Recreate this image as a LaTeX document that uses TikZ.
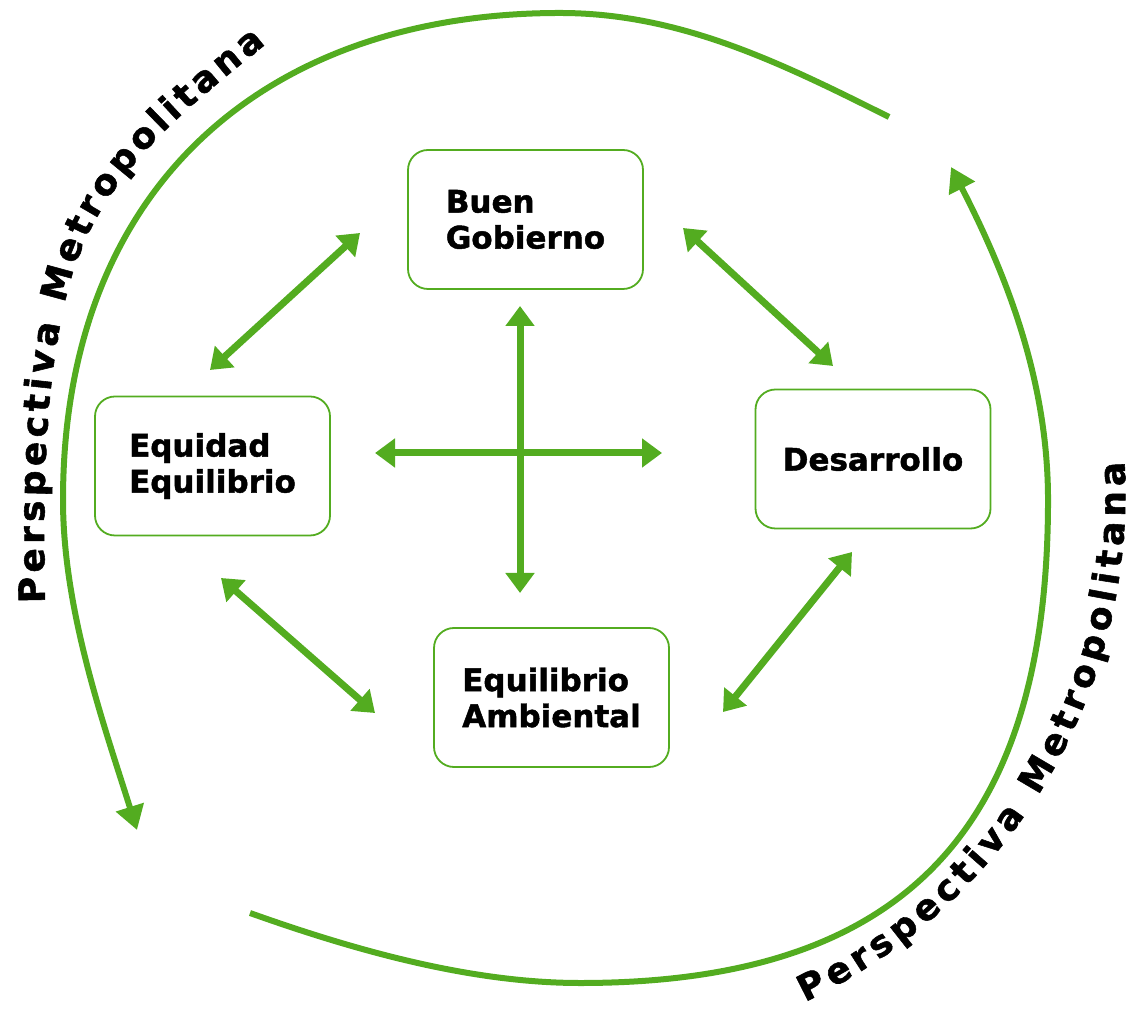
\documentclass[tikz,border=0pt]{standalone}
\usepackage{fontspec}
\setmainfont{DejaVu Sans}[BoldFeatures={FakeBold=1.5}]
\usetikzlibrary{positioning,arrows.meta,decorations.text}

\definecolor{verde}{RGB}{83,172,32}

\tikzset{
  caja/.style={draw=verde, line width=0.45pt, rounded corners=5pt,
    minimum width=58.75pt, minimum height=34.75pt, inner sep=0pt,
    align=left, font=\bfseries\fontsize{7.75}{9}\selectfont},
  flecha/.style={draw=verde, line width=1.75pt,
    {Triangle[length=5pt,width=7pt]}-{Triangle[length=5pt,width=7pt]}},
  arco/.style={draw=verde, line width=1.5pt, -{Triangle[length=6pt,width=7pt]}},
  rotulo/.style={decorate, decoration={text along path, text align={fit to path},
    text={|\bfseries\fontsize{9}{10}\selectfont|Perspectiva Metropolitana}}}
}

\begin{document}
\begin{tikzpicture}[x=0.25pt,y=-0.25pt]
		\useasboundingbox (0,0) rectangle (1130,1012);

		% Boxes
		\node[caja] (buen) at (525.5,219.5) {Buen\\Gobierno};
		\node[caja] (equi) at (212.5,466) {Equidad\\Equilibrio};
		\node[caja] (desa) at (873,459) {Desarrollo};
		\node[caja] (ambi) at (551.5,697.5) {Equilibrio\\Ambiental};

		% Arrow ends
		\coordinate (eqA) at (210,370);  \coordinate (buA) at (360,233);
		\coordinate (buB) at (683,228);  \coordinate (deA) at (833,366);
		\coordinate (eqB) at (221,578);  \coordinate (amA) at (375,713);
		\coordinate (deB) at (852,552);  \coordinate (amB) at (723,712);
		\coordinate (izq) at (375,453);  \coordinate (der) at (662,453);
		\coordinate (arr) at (520,306);  \coordinate (aba) at (520,593);

		% Arrows
		\draw[flecha] (eqA) -- (buA);
		\draw[flecha] (buB) -- (deA);
		\draw[flecha] (eqB) -- (amA);
		\draw[flecha] (deB) -- (amB);
		\draw[flecha] (izq) -- (der);
		\draw[flecha] (arr) -- (aba);

		% Outer arcs
		\draw[arco] (889,117) .. controls (781,63) and (680,13) .. (560,13)
			.. controls (262,13) and (63,190) .. (63,500)
			.. controls (63,610) and (104,725) .. (137,830);
		\draw[arco] (250,913) .. controls (354,950) and (470,983) .. (580,983)
			.. controls (897,983) and (1048,837) .. (1048,500)
			.. controls (1048,380) and (1006,274) .. (951,167);

		% Labels along the arcs
		\path[rotulo] (45,603) .. controls (43,503) and (43,387) .. (68,290)
			.. controls (97,178) and (177,116) .. (266,44);
		\path[rotulo] (805,1002) arc[start angle=64.5, end angle=-3.3, radius=562.5];
	\end{tikzpicture}
\end{document}
